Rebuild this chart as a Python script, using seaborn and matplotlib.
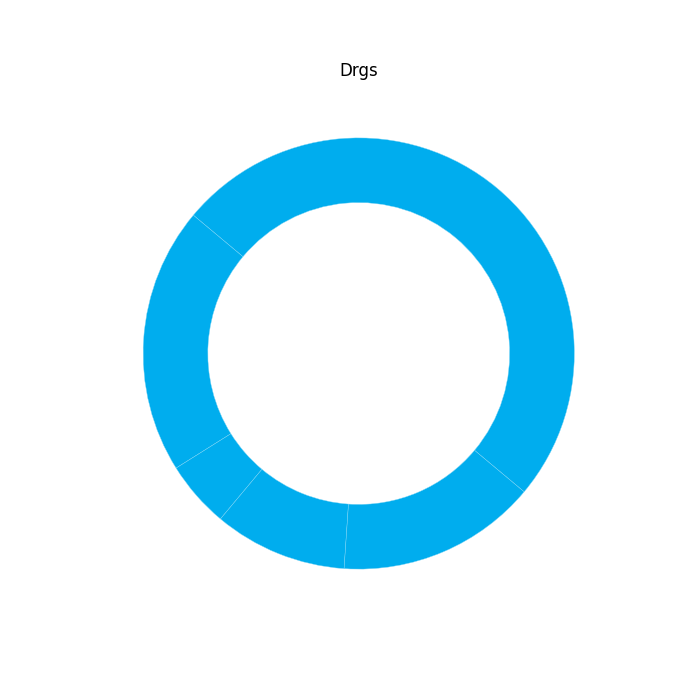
import matplotlib
matplotlib.use("Agg")
import matplotlib.pyplot as plt
import seaborn as sns

sns.set_style("white")
plt.rcParams['font.family'] = ['DejaVu Sans']
plt.rcParams['text.color'] = 'black'

labels = ["A", "B", "C", "D", "E"]
values = [50, 20, 5, 10, 15]
color = "#00ADEE"

fig, ax = plt.subplots(figsize=(7, 7), dpi=100)
ax.pie(values, colors=[color] * len(values), startangle=320.1, counterclock=True,
       wedgeprops=dict(width=0.3, edgecolor="#7fd6f6", linewidth=0.3))
ax.set_title("Drgs", fontsize=12, color="black")
ax.set_aspect("equal")
fig.savefig("out.png", dpi=100)
